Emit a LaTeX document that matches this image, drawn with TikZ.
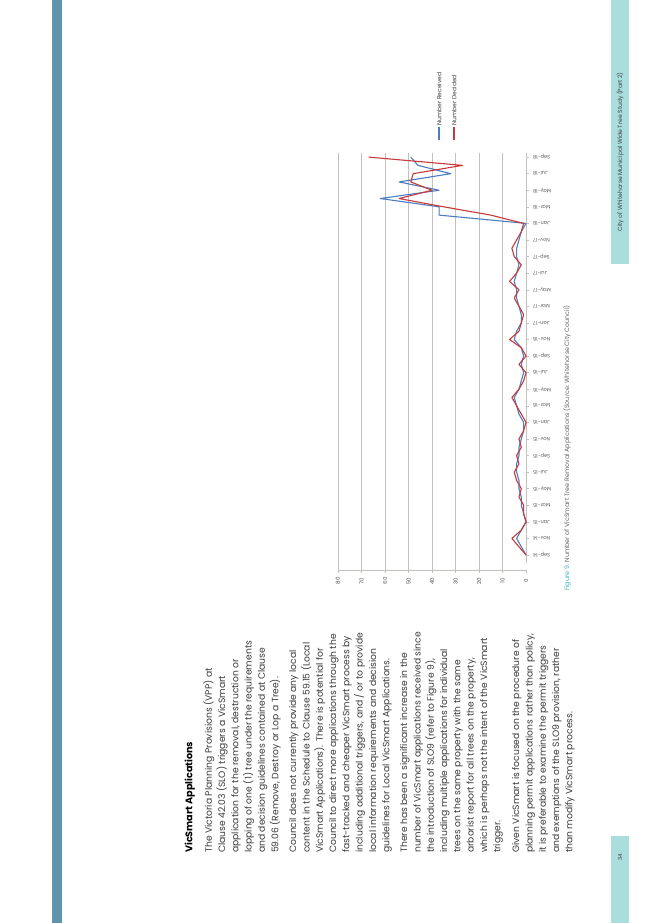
\documentclass[tikz,border=0pt]{standalone}
\usepackage{fontspec}
\setmainfont{Poppins}
\definecolor{bar}{HTML}{6094AD}
\definecolor{teal}{HTML}{AADEDD}
\definecolor{figc}{HTML}{3FB0B8}
\definecolor{ser1}{HTML}{4A7EBF}
\definecolor{ser2}{HTML}{C8393B}
\definecolor{txt}{HTML}{3A3A3A}
\definecolor{grid}{HTML}{C4C0BC}
\begin{document}
\begin{tikzpicture}[x=1pt,y=-1pt,
  para/.style={rotate=90,anchor=north west,inner sep=0,align=left,text=txt,font=\fontsize{9.2}{13.3}\selectfont},
  vlab/.style={rotate=90,inner sep=0,text=black!65,font=\fontsize{5.5}{6}\selectfont},
  mlab/.style={rotate=180,anchor=east,inner sep=0,text=black!65,font=\fontsize{5}{6}\selectfont},
  leg/.style={rotate=90,anchor=west,inner sep=0,text=black!75,font=\fontsize{6}{6}\selectfont}]
\useasboundingbox (0,0) rectangle (653,923);
\fill[white] (0,0) rectangle (653,923);
% side bars
\fill[bar] (52,0) rectangle (62,923);
\fill[teal] (611,0) rectangle (629,264);
\fill[teal] (611,836) rectangle (629,923);
\node[rotate=90,inner sep=0,text=black!75,font=\fontsize{6}{6}\selectfont] (hdr) at (620,152) {City of Whitehorse Municipal Wide Tree Study (Part 2)};
\node[rotate=90,inner sep=0,text=black!75,font=\fontsize{5.5}{6}\selectfont] (pg) at (620,857) {34};
% text
\node[para,font=\bfseries\fontsize{9.6}{12}\selectfont,text=black] (h) at (184.5,853) {VicSmart Applications};
\node[para] (p1) at (203,853) {The Victoria Planning Provisions (VPP) at\\Clause 42.03 (SLO) triggers a VicSmart\\application for the removal, destruction or\\lopping of one (1) tree under the requirements\\and decision guidelines contained at Clause\\59.06 (Remove, Destroy or Lop a Tree).};
\node[para] (p2) at (289,853) {Council does not currently provide any local\\content in the Schedule to Clause 59.15 (Local\\VicSmart Applications). There is potential for\\Council to direct more applications through the\\fast-tracked and cheaper VicSmart process by\\including additional triggers, and / or to provide\\local information requirements and decision\\guidelines for Local VicSmart Applications.};
\node[para] (p3) at (400,853) {There has been a significant increase in the\\number of VicSmart applications received since\\the introduction of SLO9 (refer to Figure 9),\\including multiple applications for individual\\trees on the same property with the same\\arborist report for all trees on the property,\\which is perhaps not the intent of the VicSmart\\trigger.};
\node[para] (p4) at (512,853) {Given VicSmart is focused on the procedure of\\planning permit applications rather than policy,\\it is preferable to examine the permit triggers\\and exemptions of the SLO9 provision, rather\\than modify VicSmart process.};
% chart grid
\foreach \k in {1,...,8} \draw[grid,line width=0.6pt] ({526-23.5*\k},153) -- ({526-23.5*\k},570);
\draw[grid,line width=0.8pt] (338,570) -- (526,570);
\foreach \k in {0,...,8} {
  \draw[grid,line width=0.6pt] ({526-23.5*\k},570) -- ({526-23.5*\k},573);
  \node[vlab] (v\k) at ({526-23.5*\k},581) {\pgfmathparse{int(10*\k)}\pgfmathresult};
}
\draw[grid,line width=0.8pt] (526,153) -- (526,563);
\foreach \m [count=\j from 0] in {Sep-14,Nov-14,Jan-15,Mar-15,May-15,Jul-15,Sep-15,Nov-15,Jan-16,Mar-16,May-16,Jul-16,Sep-16,Nov-16,Jan-17,Mar-17,May-17,Jul-17,Sep-17,Nov-17,Jan-18,Mar-18,May-18,Jul-18,Sep-18} {
  \draw[grid] (526,{555-16.58*\j}) -- (529,{555-16.58*\j});
  \node[mlab] (m\j) at (533,{555-16.58*\j}) {\m};
}
% series
\draw[ser1,line width=1.1pt,line join=round] (526,555)
 \foreach \v [count=\i from 1] in {2,4,2,0,1,2,2,3,3,4,4,3,3,2,1,1,3,4,5,3,2,1,2,1,2,5,4,2,2,3,4,4,5,4,3,4,4,3,2,0,37,37,62,37,54,32,46,49}
 { -- ({526-2.35*\v},{555-8.29*\i}) };
\draw[ser2,line width=1.1pt,line join=round] (526,555)
 \foreach \v [count=\i from 1] in {3,6,2,0,1,1,3,2,4,5,3,4,2,3,1,0,2,4,6,3,1,0,3,0,2,7,3,2,1,3,5,3,7,4,2,5,6,4,2,1,15,35,54,40,49,48,27,67}
 { -- ({526-2.35*\v},{555-8.29*\i}) };
% legend
\draw[ser1,line width=1.1pt] (439,140) -- (439,127);
\node[leg] (l1) at (439,126) {Number Received};
\draw[ser2,line width=1.1pt] (454,140) -- (454,127);
\node[leg] (l2) at (454,126) {Number Decided};
% caption
\node[rotate=90,anchor=west,inner sep=0,text=black!60,font=\fontsize{6.3}{7}\selectfont] (cap) at (567,591) {\textcolor{figc}{Figure 9.} Number of VicSmart Tree Removal Applications (Source: Whitehorse City Council)};
\end{tikzpicture}
\end{document}
